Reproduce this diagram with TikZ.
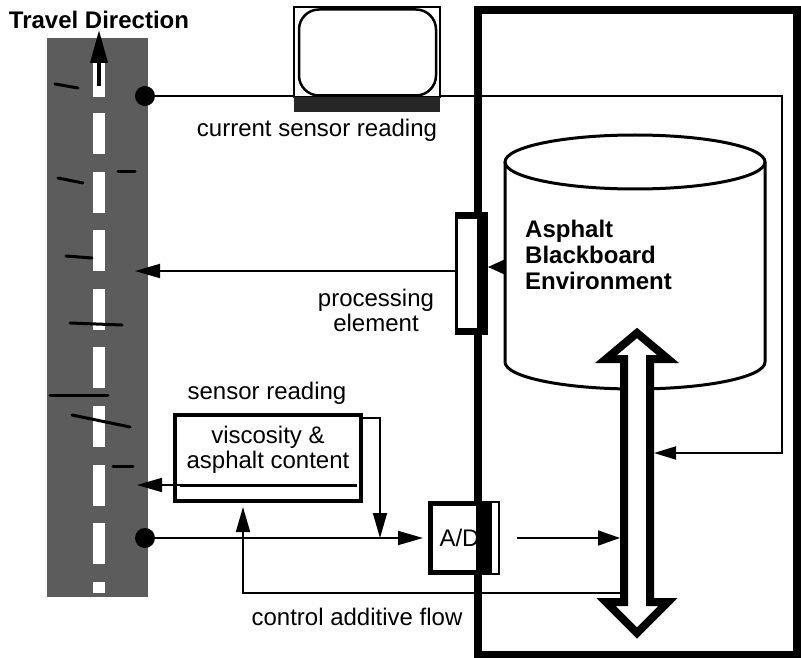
\documentclass[tikz,border=0pt]{standalone}
\usepackage{fontspec}
\setmainfont{Liberation Sans}
\usetikzlibrary{arrows.meta,calc}
\begin{document}
\begin{tikzpicture}[x=1pt,y=-1pt,
  txt/.style={font=\fontsize{24}{25}\selectfont, inner sep=0pt, align=center},
  btxt/.style={font=\fontsize{24}{26}\selectfont\bfseries, inner sep=0pt, align=left},
  wire/.style={line width=1.8pt},
  arr/.style={wire, -{Triangle[length=25pt,width=14pt]}},
  blk/.style={fill=black, inner sep=0pt, outer sep=0pt},
  wbox/.style={fill=white, inner sep=0pt, outer sep=0pt},
  dot/.style={circle, fill=black, minimum size=20pt, inner sep=0pt},
  stain/.style={line width=3pt, line cap=round}
]
\useasboundingbox (0,0) rectangle (801,658);

% blackboard enclosure
\node[draw, line width=7.5pt, inner sep=0pt, outer sep=0pt,
      minimum width=319pt, minimum height=645pt] (env) at (637.5,332.5) {};

% road with centre line
\node[fill=black!64, inner sep=0pt, outer sep=0pt,
      minimum width=101pt, minimum height=559pt] (road) at (97.5,317.5) {};
\fill[white] (93,63) rectangle (105,97);
\foreach \yy in {113,172,230,289,347,406,465,523}
  \fill[white] (93,\yy) rectangle (105,\yy+41);
\fill[white] (93,582) rectangle (105,593);
\draw[stain] (55,84) -- (78,88);
\draw[stain] (58,178) -- (83,183);
\draw[stain] (118,172) -- (135,172);
\draw[stain] (66,256) -- (92,258);
\draw[stain] (70,323) -- (122,325);
\draw[stain] (50,395) -- (108,395);
\draw[stain] (72,415) -- (130,427);
\draw[stain] (113,466) -- (133,466);

% travel direction
\node[btxt] (tdlbl) at (99,20) {Travel Direction};
\coordinate (tdA) at (99,86);
\coordinate (tdB) at (99,30);
\draw[line width=4pt, -{Triangle[length=33pt,width=17pt]}] (tdA) -- (tdB);

% sensor taps on the road
\node[dot] (d1) at (145,96) {};
\node[dot] (d2) at (145,538) {};

% feedback from the current sensor reading into the bus
\coordinate (fbc) at (782,453);
\coordinate (fbtip) at (654,453);
\draw[arr, -{Triangle[length=22pt,width=13pt]}] (d1.center) -| (fbc) -- (fbtip);

% monitor
\node[draw, line width=1.5pt, fill=white, inner sep=0pt,
      minimum width=146pt, minimum height=90pt] (mon) at (367,52) {};
\node[draw, line width=2.5pt, rounded corners=20pt, inner sep=0pt,
      minimum width=137pt, minimum height=86pt] (monscr) at (367.5,52.5) {};
\node[fill=black!85, inner sep=0pt, minimum width=146pt, minimum height=15pt] (monbase) at (367,104.5) {};
\node[txt] (curlbl) at (317,130) {current sensor reading};

% blackboard cylinder
\draw[line width=3pt] (635,162) ellipse [x radius=130pt, y radius=27pt];
\draw[line width=3pt] (505,162) -- (505,362)
  arc[start angle=180, end angle=360, x radius=130pt, y radius=27pt] -- (765,162);
\node[btxt, anchor=west] (abe) at (525,255) {Asphalt\\Blackboard\\Environment};

% bidirectional bus
\draw[line width=8pt, fill=white, line join=miter]
  (637,333) -- (668,359) -- (650,359) -- (650,602) -- (668,602) -- (637,633)
  -- (606,602) -- (624,602) -- (624,359) -- (606,359) -- cycle;

% processing element
\node[blk, minimum width=33pt, minimum height=123pt] (pe) at (471.5,273.5) {};
\node[wbox, minimum width=19pt, minimum height=109pt] (pein) at (467.5,273.5) {};
\coordinate (cylw) at (505,267);
\draw[wire, -{Triangle[length=17pt,width=15pt]}] (cylw) -- (pe.east |- cylw);
\coordinate (pel) at (455,271);
\draw[arr] (pel) -- ($(road.east |- pel)+(-13,0)$);
\node[txt] (pelbl) at (376,310) {processing\\element};

% sensor box
\node[draw, line width=4pt, fill=white, inner sep=0pt,
      minimum width=186pt, minimum height=86pt] (sens) at (268,458) {};
\node[txt] (senst) at (268,450) {viscosity \&\\asphalt content};
\coordinate (inlA) at (180,485);
\coordinate (inlB) at (357,485);
\draw[line width=3pt] (inlA) -- (inlB);
\draw[arr] (inlA) -- ($(road.east |- inlA)+(-11,0)$);
\node[txt] (senslbl) at (267,393) {sensor reading};

% A/D converter
\node[blk, minimum width=62pt, minimum height=74pt] (ad) at (459,538) {};
\node[wbox, minimum width=43pt, minimum height=64pt] (adin) at (454.5,538) {};
\node[txt] (adt) at (459.5,538) {A/D};
\node[blk, minimum width=14pt, minimum height=74pt] (adedge) at (483,538) {};
\node[draw, line width=2pt, fill=white, inner sep=0pt,
      minimum width=8pt, minimum height=72pt] (adbuf) at (495,538) {};

% signal paths
\coordinate (srj) at (380,538);
\draw[arr] ($(sens.north east)+(0,5)$) -| (srj);
\draw[arr] (d2.center) -- ($(ad.west)+(-5,0)$);
\coordinate (adout) at (517,538);
\coordinate (shL) at (620,538);
\draw[arr, -{Triangle[length=22pt,width=15pt]}] (adout) -- (shL);
\coordinate (ctl) at (620,593);
\draw[arr] (ctl) -| ($(sens.south)+(-25,4)$);
\node[txt] (ctllbl) at (357,617) {control additive flow};

\end{tikzpicture}
\end{document}
